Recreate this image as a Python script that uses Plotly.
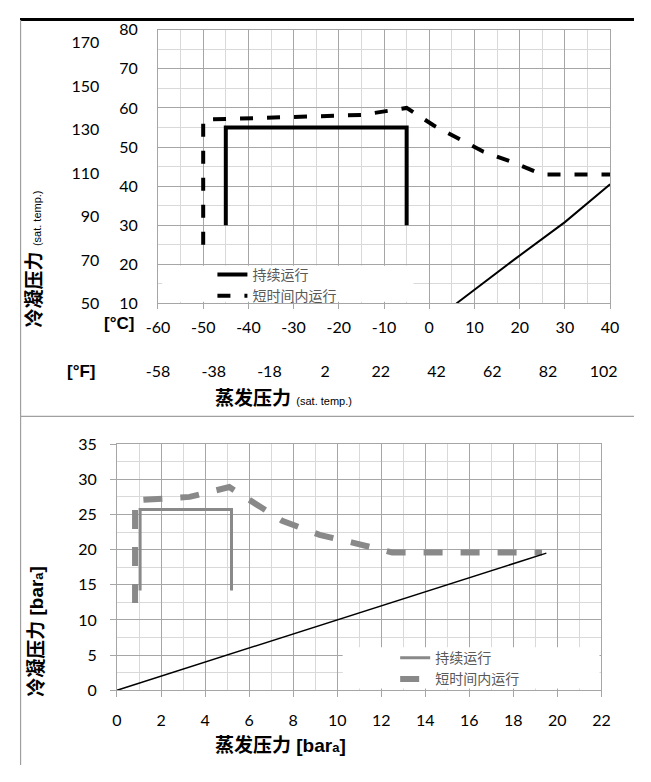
import plotly.graph_objects as go

# ---------------- data ----------------
# Top panel (saturation temperatures, °C)
cont_t_x = [-45, -45, -5, -5]
cont_t_y = [30, 55, 55, 30]
short_t_x = [-50, -50, -15, -5, 1, 12, 18, 25, 40]
short_t_y = [25, 57, 58.2, 60, 55.5, 48.8, 46.3, 43, 43]
ratio_t_x = [6, 19, 30, 40]
ratio_t_y = [10, 21.4, 30.8, 40.5]

# Bottom panel (pressures, bara)
cont_p_x = [1.05, 1.05, 5.2, 5.2]
cont_p_y = [14.2, 25.7, 25.7, 14.2]
short_p_x = [0.82, 0.82, 3.3, 5.1, 7.5, 9.2, 10.7, 12.5, 19.3]
short_p_y = [12.4, 27.0, 27.5, 28.9, 24.1, 22.1, 21.0, 19.6, 19.6]
ratio_p_x = [0, 19.5]
ratio_p_y = [0, 19.5]

c_ticks = [-60, -50, -40, -30, -20, -10, 0, 10, 20, 30, 40]
f_bottom_labels = [-58, -38, -18, 2, 22, 42, 62, 82, 102]
f_left_labels = [50, 70, 90, 110, 130, 150, 170]

names = ["持续运行", "短时间内运行"]

# ---------------- layout helpers ----------------
# page has 8px body margin -> figure of 635x766 fills the 651x782 window
OFF = 8
W, H = 635, 766
def fx(p):
    return (p - OFF) / W
def fy(p):
    return 1 - (p - OFF) / H

MAJ = "#a6a6a6"
MIN = "#d9d9d9"
TICKFONT = dict(family="Lato, Liberation Sans", size=16, color="#000000")
CJK = "Liberation Sans, Noto Sans CJK SC"

fig = go.Figure()

# top traces
fig.add_trace(go.Scatter(x=cont_t_x, y=cont_t_y, mode="lines", name=names[0],
                         line=dict(color="#000000", width=4), xaxis="x", yaxis="y",
                         legend="legend"))
fig.add_trace(go.Scatter(x=short_t_x, y=short_t_y, mode="lines", name=names[1],
                         line=dict(color="#000000", width=4, dash="13px,14px"),
                         xaxis="x", yaxis="y", legend="legend"))
fig.add_trace(go.Scatter(x=ratio_t_x, y=ratio_t_y, mode="lines", showlegend=False,
                         line=dict(color="#000000", width=2), xaxis="x", yaxis="y"))
# helper traces so overlay axes exist
fig.add_trace(go.Scatter(x=[], y=[], xaxis="x3", yaxis="y", showlegend=False, hoverinfo="skip"))
fig.add_trace(go.Scatter(x=[], y=[], xaxis="x", yaxis="y3", showlegend=False, hoverinfo="skip"))

# bottom traces
fig.add_trace(go.Scatter(x=cont_p_x, y=cont_p_y, mode="lines", name=names[0],
                         line=dict(color="#898989", width=3), xaxis="x2", yaxis="y2",
                         legend="legend2"))
fig.add_trace(go.Scatter(x=short_p_x, y=short_p_y, mode="lines", name=names[1],
                         line=dict(color="#898989", width=6, dash="19px,18px"),
                         xaxis="x2", yaxis="y2", legend="legend2"))
fig.add_trace(go.Scatter(x=ratio_p_x, y=ratio_p_y, mode="lines", showlegend=False,
                         line=dict(color="#000000", width=1.5), xaxis="x2", yaxis="y2"))

common = dict(showgrid=True, gridcolor=MAJ, gridwidth=1, showline=True, linecolor=MAJ,
              linewidth=1, mirror=True, zeroline=False, tickfont=TICKFONT)

fig.update_layout(
    width=W, height=H, margin=dict(l=0, r=0, t=0, b=0),
    paper_bgcolor="white", plot_bgcolor="white",
    xaxis=dict(domain=[fx(150.7), fx(618.3)], range=[-60, 40], tickmode="array",
               tickvals=c_ticks, ticktext=[str(v) for v in c_ticks],
               anchor="y", ticks="outside", ticklen=5, tickcolor=MAJ,
               ticklabelstandoff=4,
               minor=dict(dtick=5, showgrid=True, gridcolor=MIN), **common),
    yaxis=dict(domain=[fy(300.7), fy(20)], range=[10, 80], tick0=10, dtick=10,
               anchor="x", ticks="", ticklabelstandoff=16,
               minor=dict(dtick=5, showgrid=True, gridcolor=MIN), **common),
    xaxis3=dict(overlaying="x", anchor="free", position=fy(359), side="bottom",
                range=[-58, 104.3], tickmode="array", tickvals=f_bottom_labels,
                ticktext=[str(v) for v in f_bottom_labels],
                showgrid=False, showline=False, zeroline=False, ticks="",
                tickfont=TICKFONT),
    yaxis3=dict(overlaying="y", anchor="free", position=fx(90), side="left",
                range=[50, 176], tickmode="array", tickvals=f_left_labels,
                showgrid=False, showline=False, zeroline=False, ticks="",
                tickfont=TICKFONT),
    xaxis2=dict(domain=[fx(108.3), fx(609.3)], range=[0, 22], tick0=0, dtick=2,
                anchor="y2", ticks="outside", ticklen=6, tickcolor=MAJ,
                ticklabelstandoff=10,
                minor=dict(dtick=1, showgrid=True, gridcolor=MIN), **common),
    yaxis2=dict(domain=[fy(697.3), fy(445)], range=[0, 35], tick0=0, dtick=5,
                anchor="x2", ticks="outside", ticklen=6, tickcolor=MAJ,
                ticklabelstandoff=10,
                minor=dict(dtick=2.5, showgrid=True, gridcolor=MIN), **common),
    legend=dict(x=fx(207), y=fy(255), xanchor="left", yanchor="top",
                bgcolor="rgba(0,0,0,0)", borderwidth=0, tracegroupgap=0,
                font=dict(family="Noto Sans CJK SC", size=14, color="#595959")),
    legend2=dict(x=fx(396), y=fy(648), xanchor="left", yanchor="top",
                 bgcolor="rgba(0,0,0,0)", borderwidth=0, tracegroupgap=0,
                 font=dict(family="Noto Sans CJK SC", size=14, color="#595959")),
    showlegend=True,
)

shapes = [
    # legend backgrounds
    dict(type="rect", xref="paper", yref="paper", x0=fx(155), x1=fx(415),
         y0=fy(299), y1=fy(262), fillcolor="white", line=dict(width=0), layer="above"),
    dict(type="rect", xref="paper", yref="paper", x0=fx(341.7), x1=fx(607.3),
         y0=fy(695.5), y1=fy(653.3), fillcolor="white", line=dict(width=0), layer="above"),
    # frame lines
    dict(type="line", xref="paper", yref="paper", x0=0, x1=1, y0=fy(9.5), y1=fy(9.5),
         line=dict(color="#000000", width=3)),
    dict(type="line", xref="paper", yref="paper", x0=fx(8.6), x1=fx(8.6), y0=0, y1=fy(10),
         line=dict(color="#a0a0a0", width=1.2)),
    dict(type="line", xref="paper", yref="paper", x0=fx(8.6), x1=1, y0=fy(416.5), y1=fy(416.5),
         line=dict(color="#a0a0a0", width=1.2)),
]
fig.update_layout(shapes=shapes)

ann = [
    dict(text="<b>[°C]</b>", x=fx(110), y=fy(321.7), font=dict(family="Liberation Sans", size=17, color="#000")),
    dict(text="<b>[°F]</b>", x=fx(72), y=fy(370), font=dict(family="Liberation Sans", size=17, color="#000")),
    dict(text="<b>蒸发压力</b> <span style='font-family:Liberation Sans;font-size:11px'>(sat. temp.)</span>",
         x=fx(281), y=fy(398), font=dict(family=CJK, size=19, color="#000")),
    dict(text="<b>冷凝压力</b> <span style='font-family:Liberation Sans;font-size:11px'>(sat. temp.)</span>",
         x=fx(22), y=fy(255), textangle=-90, font=dict(family=CJK, size=19, color="#000")),
    dict(text="<b>蒸发压力 [bar<span style='font-size:13px'>a</span>]</b>",
         x=fx(277), y=fy(753), font=dict(family=CJK, size=19, color="#000")),
    dict(text="<b>冷凝压力 [bar<span style='font-size:13px'>a</span>]</b>",
         x=fx(25), y=fy(637), textangle=-90, font=dict(family=CJK, size=19, color="#000")),
]
for a in ann:
    a.update(xref="paper", yref="paper", showarrow=False, xanchor="center", yanchor="middle")
fig.update_layout(annotations=ann)

fig.write_html("out.html", config={"displayModeBar": False})
